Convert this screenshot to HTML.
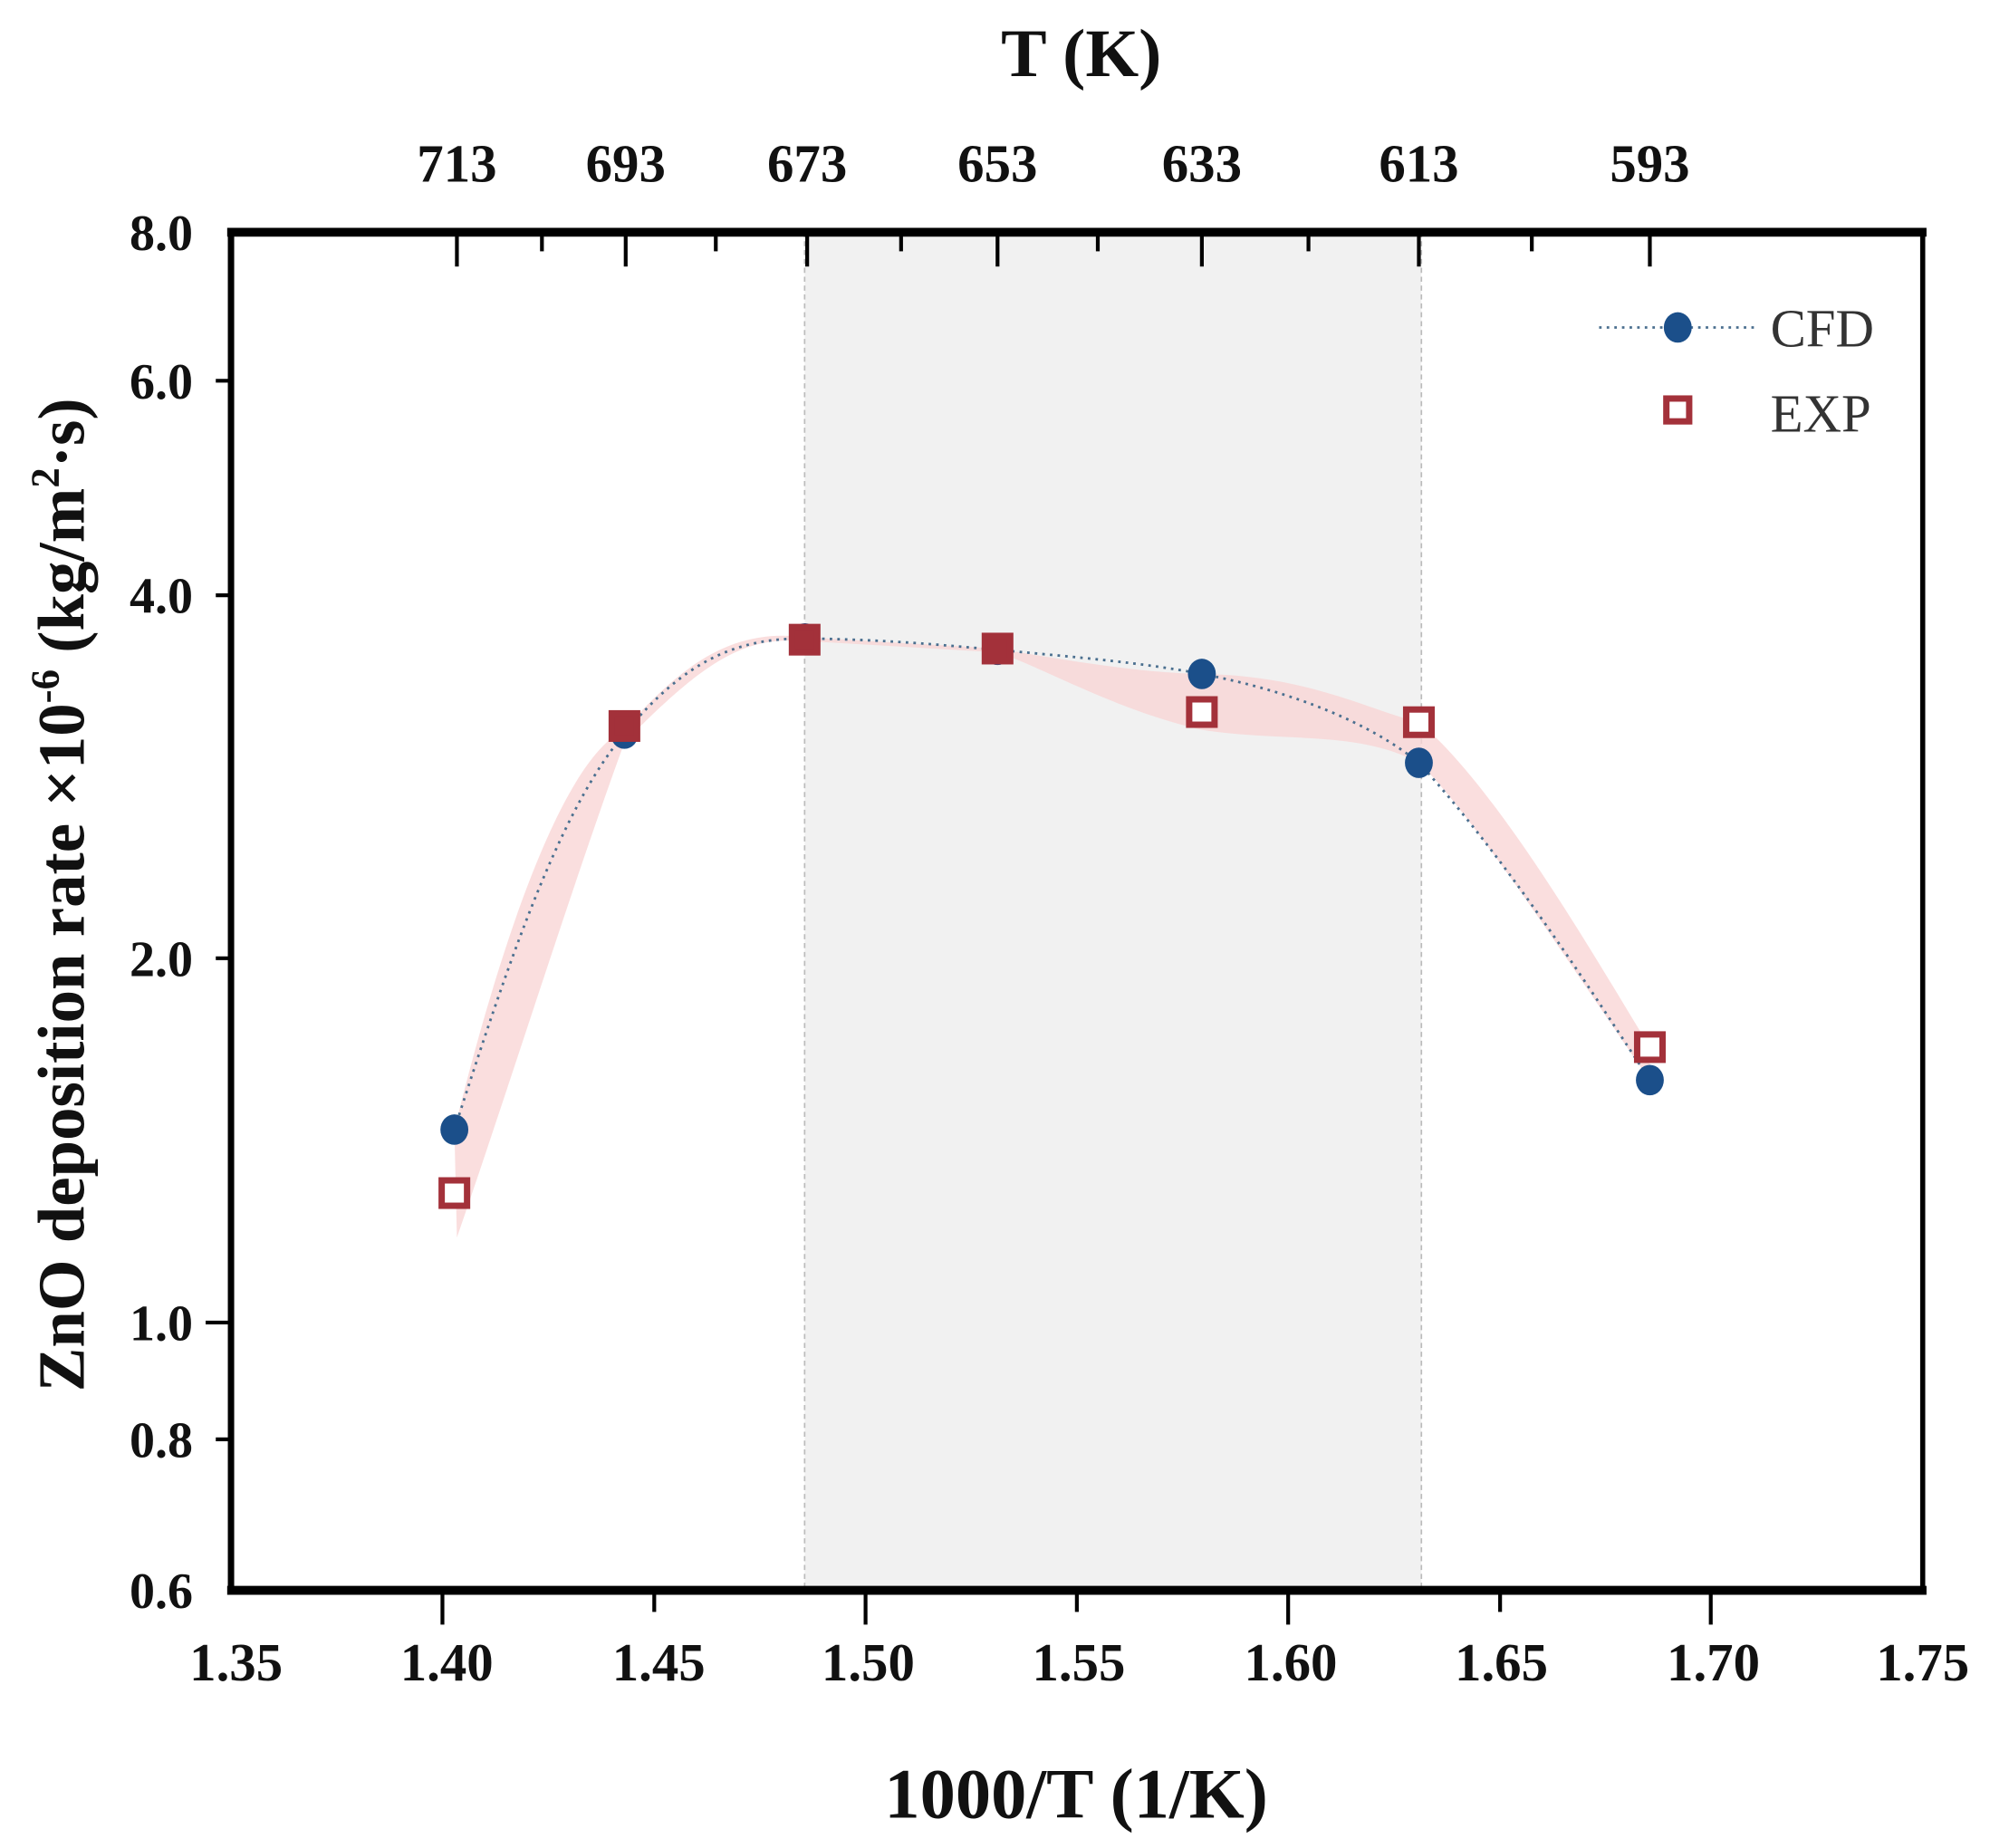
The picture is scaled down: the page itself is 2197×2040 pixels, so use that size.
<!DOCTYPE html>
<html><head><meta charset="utf-8"><style>
html,body{margin:0;padding:0;background:#fff;}
svg{display:block;}
text{font-family:"Liberation Serif",serif;font-weight:bold;fill:#111;}
</style></head><body>
<svg width="2197" height="2040" viewBox="0 0 1568 1456" xmlns="http://www.w3.org/2000/svg">
<rect x="0" y="0" width="1568" height="1456" fill="#fff"/>
<rect x="634" y="183" width="486" height="1070" fill="#f1f1f1"/>
<line x1="634" y1="183" x2="634" y2="1253" stroke="#bbb" stroke-width="1.2" stroke-dasharray="4,3"/>
<line x1="1120" y1="183" x2="1120" y2="1253" stroke="#bbb" stroke-width="1.2" stroke-dasharray="4,3"/>
<path d="M358,890 C390,760 440,600 492,575 C540,520 580,495 634,502 L786,511 C850,522 900,530 947,531 C1030,532 1080,560 1118,569 C1180,620 1260,760 1300,825 L1300,851 C1250,780 1160,640 1118,601 C1070,575 1010,585 947,575 C880,560 820,525 786,514 L634,505 C590,502 560,515 492,585 C450,700 400,860 360,975 Z" fill="#f9d6d6" opacity="0.8"/>
<path d="M358,890 C400,760 440,640 492,578 C540,520 580,503 634,503 C700,504 740,508 786,512 C850,518 900,522 947,531 C1020,545 1080,570 1118,601 C1190,680 1260,790 1300,851" fill="none" stroke="#4a6f8f" stroke-width="2" stroke-dasharray="2,4"/>
<g fill="#1b4f8a">
<ellipse cx="358" cy="890" rx="11" ry="12"/><ellipse cx="492" cy="578" rx="11" ry="12"/><ellipse cx="634" cy="503" rx="11" ry="12"/><ellipse cx="786" cy="512" rx="11" ry="12"/><ellipse cx="947" cy="531" rx="11" ry="12"/><ellipse cx="1118" cy="601" rx="11" ry="12"/><ellipse cx="1300" cy="851" rx="11" ry="12"/>
</g>
<g fill="#fff" stroke="#a3313a" stroke-width="5">
<rect x="348" y="930" width="20" height="20"/><rect x="482" y="562" width="20" height="20" fill="#a3313a"/><rect x="624" y="494" width="20" height="20" fill="#a3313a"/><rect x="776" y="501" width="20" height="20" fill="#a3313a"/><rect x="937" y="551" width="20" height="20"/><rect x="1108" y="559" width="20" height="20"/><rect x="1290" y="815" width="20" height="20"/>
</g>
<line x1="179" y1="183" x2="1518" y2="183" stroke="#000" stroke-width="7"/>
<line x1="179" y1="1253" x2="1518" y2="1253" stroke="#000" stroke-width="7"/>
<line x1="182" y1="180" x2="182" y2="1256" stroke="#000" stroke-width="5"/>
<line x1="1515" y1="180" x2="1515" y2="1256" stroke="#000" stroke-width="4"/>
<g stroke="#000" stroke-width="3">
<line x1="348.6" y1="1253" x2="348.6" y2="1280"/><line x1="515.5" y1="1253" x2="515.5" y2="1270"/><line x1="682" y1="1253" x2="682" y2="1280"/><line x1="848.5" y1="1253" x2="848.5" y2="1270"/><line x1="1015" y1="1253" x2="1015" y2="1280"/><line x1="1182" y1="1253" x2="1182" y2="1270"/><line x1="1348" y1="1253" x2="1348" y2="1280"/>
<line x1="360" y1="183" x2="360" y2="210"/><line x1="427" y1="183" x2="427" y2="198"/><line x1="493" y1="183" x2="493" y2="210"/><line x1="564" y1="183" x2="564" y2="198"/><line x1="636" y1="183" x2="636" y2="210"/><line x1="710" y1="183" x2="710" y2="198"/><line x1="786" y1="183" x2="786" y2="210"/><line x1="865" y1="183" x2="865" y2="198"/><line x1="947" y1="183" x2="947" y2="210"/><line x1="1031" y1="183" x2="1031" y2="198"/><line x1="1118" y1="183" x2="1118" y2="210"/><line x1="1207" y1="183" x2="1207" y2="198"/><line x1="1300" y1="183" x2="1300" y2="210"/>
<line x1="170" y1="300" x2="182" y2="300"/><line x1="170" y1="469" x2="182" y2="469"/><line x1="170" y1="755" x2="182" y2="755"/><line x1="162" y1="1042" x2="182" y2="1042"/><line x1="170" y1="1134" x2="182" y2="1134"/>
</g>
<g font-size="42" text-anchor="middle">
<text x="186" y="1324">1.35</text><text x="352" y="1324">1.40</text><text x="519" y="1324">1.45</text><text x="684" y="1324">1.50</text><text x="850" y="1324">1.55</text><text x="1017" y="1324">1.60</text><text x="1183" y="1324">1.65</text><text x="1350" y="1324">1.70</text><text x="1515" y="1324">1.75</text>
<text x="360" y="143">713</text><text x="493" y="143">693</text><text x="636" y="143">673</text><text x="786" y="143">653</text><text x="947" y="143">633</text><text x="1118" y="143">613</text><text x="1300" y="143">593</text>
</g>
<g font-size="40" text-anchor="end">
<text x="152" y="197">8.0</text><text x="152" y="314">6.0</text><text x="152" y="483">4.0</text><text x="152" y="769">2.0</text><text x="152" y="1056">1.0</text><text x="152" y="1148">0.8</text><text x="152" y="1267">0.6</text>
</g>
<text x="848" y="1432" font-size="56" text-anchor="middle">1000/T (1/K)</text>
<text x="852" y="60" font-size="54" text-anchor="middle">T (K)</text>
<text transform="translate(66,705) rotate(-90)" font-size="52" text-anchor="middle">ZnO deposition rate ×10<tspan font-size="32" dy="-20">-6</tspan><tspan dy="20"> (kg/m</tspan><tspan font-size="32" dy="-20">2</tspan><tspan dy="20">·s)</tspan></text>
<line x1="1260" y1="258" x2="1385" y2="258" stroke="#4a6f8f" stroke-width="2" stroke-dasharray="2,4"/>
<ellipse cx="1322" cy="258" rx="11" ry="12" fill="#1b4f8a"/>
<text x="1395" y="273" font-size="42" style="font-weight:normal;fill:#333">CFD</text>
<rect x="1313" y="314" width="18" height="18" fill="#fff" stroke="#a3313a" stroke-width="5"/>
<text x="1395" y="340" font-size="42" style="font-weight:normal;fill:#333">EXP</text>
</svg>
</body></html>
